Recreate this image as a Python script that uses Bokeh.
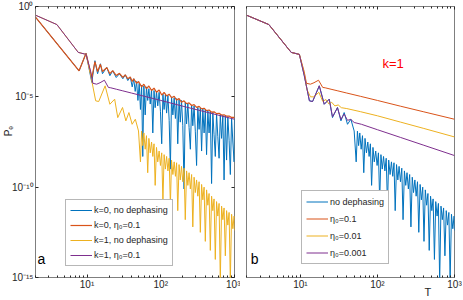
import numpy as np
from bokeh.plotting import figure
from bokeh.layouts import row
from bokeh.models import FixedTicker, LogAxis, Legend, LegendItem, Label, Range1d
from bokeh.embed import file_html
from bokeh.resources import INLINE

BLUE = "#0072BD"; ORANGE = "#D95319"; YELLOW = "#EDB120"; PURPLE = "#7E2F8E"
FONT = "Liberation Sans"
AX = "#262626"

# ---- axis ticks ----
x_major = [10, 100, 1000]
x_minor = [2, 3, 4, 5, 6, 7, 8, 9, 20, 30, 40, 50, 60, 70, 80, 90,
           200, 300, 400, 500, 600, 700, 800, 900]
x_labels = {10: "10¹", 100: "10²", 1000: "10³"}
y_major = [1e-15, 1e-10, 1e-5, 1.0]
y_labels = {1e-15: "10⁻¹⁵", 1e-10: "10⁻¹⁰", 1e-5: "10⁻⁵", 1.0: "10⁰"}
y_title = "Pₑ"
x_title = "T"

# ---- data: (T, log10 Pe) ----
k0_nodeph = [(2, -0.59), (7.8, -3.56), (9.7, -2.59), (11.6, -4.2), (12.8, -3.0), (13.9, -3.72),
    (15.2, -3.17), (16.2, -3.72), (18.5, -3.37), (20.4, -3.83), (22.3, -3.56), (24.9, -3.93),
    (27.5, -3.72), (30.6, -4.0), (33, -3.78), (35.7, -4.1), (38.6, -3.9), (41, -4.45), (43, -4.0),
    (45, -4.7), (47, -4.15), (49, -5.2), (51, -4.25), (53, -5.7), (55, -4.35), (57, -8.3),
    (59, -4.4), (61.5, -6.0), (64, -4.45), (66.5, -5.2), (69, -4.55), (72, -5.4), (75, -4.6),
    (78, -7.0), (81, -4.65), (84, -5.6), (87.5, -4.7), (91, -5.5), (95, -4.75), (99, -5.8),
    (103, -7.6), (107, -4.85), (111, -5.7), (115.5, -4.9), (120, -5.9), (125, -4.92), (130, -6.3),
    (135, -9.0), (140, -5.0), (146, -6.0), (152, -5.05), (158, -6.2), (164, -5.1), (170, -7.6),
    (177, -5.15), (184, -6.4), (191, -5.2), (199, -6.6), (207, -10.1), (215, -5.3), (224, -6.5),
    (233, -5.35), (242, -6.7), (252, -7.9), (262, -5.45), (272, -6.6), (283, -5.5), (294, -6.9),
    (306, -8.8), (318, -5.58), (331, -6.8), (344, -5.62), (358, -8.0), (372, -5.66), (387, -7.0),
    (402, -5.7), (418, -8.2), (435, -5.76), (452, -7.0), (470, -5.8), (489, -9.8), (508, -5.86),
    (528, -7.1), (549, -8.3), (571, -5.93), (594, -7.2), (618, -8.4), (642, -5.98), (668, -7.3),
    (695, -6.02), (722, -9.6), (751, -6.06), (781, -8.5), (812, -6.1), (845, -7.4), (878, -9.3),
    (913, -6.16), (950, -7.5), (988, -8.6), (1000, -6.2)]

k0_eta01 = [(2, -0.59), (7.8, -3.56), (9.7, -2.59), (11.6, -3.95), (12.8, -3.05), (13.9, -3.6),
    (15.2, -3.2), (16.2, -3.6), (18.5, -3.38), (20.4, -3.72), (22.3, -3.55), (24.9, -3.82),
    (27.5, -3.7), (30.6, -3.92), (33, -3.78), (35.7, -4.0), (38.6, -3.9), (41, -4.15), (43, -4.0),
    (47, -4.25), (50, -4.15), (55, -4.45), (59, -4.3), (64, -4.55), (69, -4.4), (75, -4.65),
    (81, -4.52), (87.5, -4.75), (95, -4.62), (103, -4.9), (111, -4.75), (120, -4.95), (130, -4.85),
    (140, -5.05), (152, -4.97), (164, -5.18), (177, -5.1), (191, -5.3), (207, -5.22), (224, -5.38),
    (242, -5.33), (262, -5.48), (283, -5.43), (306, -5.58), (331, -5.53), (358, -5.67), (387, -5.63),
    (418, -5.76), (452, -5.73), (489, -5.85), (528, -5.83), (571, -5.93), (618, -5.91), (668, -6.01),
    (722, -5.99), (781, -6.07), (845, -6.06), (913, -6.14), (988, -6.14), (1000, -6.2)]

k1_nodeph = [(2, -0.48), (3.9, -1.0), (7.6, -2.54), (9.7, -2.65), (11.2, -3.8), (13.1, -5.22),
    (14.4, -5.26), (17.6, -4.39), (20.4, -5.41), (23.7, -5.13), (26.1, -6.15), (30.3, -5.59),
    (33.6, -6.33), (37, -5.87), (40.9, -6.52), (45.2, -6.24), (49.9, -6.89), (53, -8.6), (55, -6.9),
    (57, -7.7), (59, -7.0), (61.5, -7.9), (64, -7.15), (66.5, -9.2), (69, -7.3), (72, -8.1),
    (75, -7.5), (78, -8.3), (81, -7.6), (84, -9.9), (87.5, -7.8), (91, -8.6), (95, -8.0), (99, -8.8),
    (103, -8.1), (107, -10.8), (111, -8.2), (115.5, -9.0), (120, -8.3), (125, -9.1), (130, -8.4),
    (135, -11.0), (140, -8.5), (146, -9.3), (152, -8.6), (158, -9.4), (164, -8.65), (170, -11.3),
    (177, -8.75), (184, -9.6), (191, -8.85), (199, -9.7), (207, -8.95), (215, -11.8), (224, -9.1),
    (233, -9.9), (242, -9.2), (252, -10.1), (262, -9.3), (272, -12.2), (283, -9.45), (294, -10.3),
    (306, -9.6), (318, -10.5), (331, -9.7), (344, -12.5), (358, -9.85), (372, -10.7), (387, -10.0),
    (402, -13.0), (418, -10.15), (435, -11.0), (452, -10.35), (470, -13.5), (489, -10.5),
    (508, -11.3), (528, -10.65), (549, -14.0), (571, -10.8), (594, -11.6), (618, -10.9),
    (642, -15.2), (668, -11.05), (695, -11.8), (722, -11.15), (751, -13.8), (781, -11.3),
    (812, -12.1), (845, -11.4), (878, -15.2), (913, -11.5), (950, -12.3), (988, -11.6), (1000, -12.4)]

k1_eta01 = [(2, -0.48), (3.9, -1.0), (7.6, -2.54), (9.7, -2.65), (11.2, -3.6), (12, -4.25),
    (13.5, -4.3), (15, -4.22), (17.2, -4.08), (19.5, -4.48), (21, -4.5), (25, -4.58), (30, -4.66),
    (40, -4.79), (60, -4.97), (100, -5.2), (200, -5.52), (400, -5.83), (1000, -6.24)]

k1_eta001 = [(2, -0.48), (3.9, -1.0), (7.6, -2.54), (9.7, -2.65), (11.2, -3.7), (12.2, -4.6),
    (13.5, -5.0), (15, -5.0), (17.4, -4.75), (19.5, -5.25), (21.5, -5.15), (23.5, -5.4),
    (25.5, -5.3), (28, -5.5), (31, -5.45), (34, -5.6), (40, -5.65), (60, -5.82), (100, -6.05),
    (200, -6.4), (400, -6.75), (1000, -7.22)]

k1_eta0001 = [(2, -0.48), (3.9, -1.0), (7.6, -2.54), (9.7, -2.65), (11.2, -3.8), (13.1, -5.22),
    (14.4, -5.26), (17.6, -4.39), (20.4, -5.41), (23.7, -5.13), (26.1, -6.1), (30.3, -5.6),
    (33.6, -6.25), (37, -5.95), (40.9, -6.3), (45, -6.25), (50, -6.42), (62, -6.52), (100, -6.82),
    (200, -7.25), (400, -7.68), (1000, -8.25)]

# where the axis titles sit (T value / Pe value)
x_title_at = 450.0
y_title_at = 10 ** -6.9


def xy(series):
    t = np.array([s[0] for s in series], dtype=float)
    lp = np.array([s[1] for s in series], dtype=float)
    return t, 10.0 ** lp


def blank_axis(ticks, minor, tick_in, minor_in):
    return LogAxis(ticker=FixedTicker(ticks=ticks, minor_ticks=minor),
                   major_label_text_font_size="1px", major_label_text_alpha=0,
                   major_label_standoff=0, axis_line_color=None,
                   major_tick_in=tick_in, major_tick_out=0,
                   minor_tick_in=minor_in, minor_tick_out=0,
                   major_tick_line_color=AX, minor_tick_line_color=AX)


def title_axis(at, text, size, standoff, orientation):
    return LogAxis(ticker=FixedTicker(ticks=[at], minor_ticks=[]),
                   major_label_overrides={at: text},
                   major_label_text_font=FONT, major_label_text_font_size=size,
                   major_label_text_color=AX, major_label_standoff=standoff,
                   major_label_orientation=orientation,
                   axis_line_color=None, major_tick_in=0, major_tick_out=0,
                   minor_tick_in=0, minor_tick_out=0)


def style(p, ylabels):
    p.xgrid.visible = False
    p.ygrid.visible = False
    p.outline_line_color = "#7f7f7f"
    p.outline_line_width = 1
    p.background_fill_color = "white"
    p.border_fill_color = "white"
    ax = p.xaxis[0]
    ax.ticker = FixedTicker(ticks=x_major, minor_ticks=x_minor)
    ax.major_label_overrides = x_labels
    ax.axis_line_color = None
    ax.major_tick_in = 3; ax.major_tick_out = 0
    ax.minor_tick_in = 2; ax.minor_tick_out = 0
    ax.major_tick_line_color = AX; ax.minor_tick_line_color = AX
    ax.major_label_text_font = FONT
    ax.major_label_text_font_size = "10px"
    ax.major_label_text_color = AX
    ax.major_label_standoff = 1
    p.add_layout(blank_axis(x_major, x_minor, 3, 2), "above")
    ay = p.yaxis[0]
    if ylabels:
        ay.ticker = FixedTicker(ticks=y_major, minor_ticks=[])
        ay.major_label_overrides = y_labels
        ay.axis_line_color = None
        ay.major_tick_in = 3; ay.major_tick_out = 0
        ay.minor_tick_in = 0; ay.minor_tick_out = 0
        ay.major_tick_line_color = AX
        ay.major_label_text_font = FONT
        ay.major_label_text_font_size = "10px"
        ay.major_label_text_color = AX
        ay.major_label_standoff = 2
        p.add_layout(blank_axis(y_major, [], 3, 0), "right")
    else:
        ay.visible = False


def make_legend(items, loc, gh, sp):
    return Legend(items=items, location=loc, orientation="vertical",
                  label_text_font=FONT, label_text_font_size="9px", label_text_color=AX,
                  glyph_width=22, glyph_height=gh, label_height=gh, label_standoff=2,
                  label_width=10, padding=4, spacing=sp, margin=0,
                  border_line_color="#6f6f6f", border_line_width=1,
                  background_fill_color="white", background_fill_alpha=1.0)


# ---- left panel (a) ----
p1 = figure(width=240, height=300, x_axis_type="log", y_axis_type="log",
            x_range=Range1d(2, 1000), y_range=Range1d(1e-15, 1),
            output_backend="svg", toolbar_location=None,
            min_border_left=20, min_border_right=6, min_border_top=6, min_border_bottom=21)
style(p1, True)
p1.add_layout(title_axis(y_title_at, y_title, "10px", -6, "parallel"), "left")
r1 = p1.line(*xy(k0_nodeph), line_color=BLUE, line_width=1)
r2 = p1.line(*xy(k0_eta01), line_color=ORANGE, line_width=1.2)
r3 = p1.line(*xy(k1_nodeph), line_color=YELLOW, line_width=1)
r4 = p1.line(*xy(k1_eta01), line_color=PURPLE, line_width=1)
leg1 = make_legend([LegendItem(label="k=0, no dephasing", renderers=[r1]),
                    LegendItem(label="k=0, η₀=0.1", renderers=[r2]),
                    LegendItem(label="k=1, no dephasing", renderers=[r3]),
                    LegendItem(label="k=1, η₀=0.1", renderers=[r4])], (30, 11), 12, 3)
p1.add_layout(leg1)
p1.add_layout(Label(x=2.4, y=10 ** -14.0, text="a", text_font=FONT, text_font_size="14px",
                    text_color="black", text_align="center", text_baseline="middle"))

# ---- right panel (b) ----
p2 = figure(width=222, height=300, x_axis_type="log", y_axis_type="log",
            x_range=Range1d(2, 1000), y_range=Range1d(1e-15, 1),
            output_backend="svg", toolbar_location=None,
            min_border_left=6, min_border_right=8, min_border_top=6, min_border_bottom=21)
style(p2, False)
p2.add_layout(title_axis(x_title_at, x_title, "11px", -7, "horizontal"), "below")
q1 = p2.line(*xy(k1_nodeph), line_color=BLUE, line_width=1)
q2 = p2.line(*xy(k1_eta01), line_color=ORANGE, line_width=1)
q3 = p2.line(*xy(k1_eta001), line_color=YELLOW, line_width=1)
q4 = p2.line(*xy(k1_eta0001), line_color=PURPLE, line_width=1)
leg2 = make_legend([LegendItem(label="no dephasing", renderers=[q1]),
                    LegendItem(label="η₀=0.1", renderers=[q2]),
                    LegendItem(label="η₀=0.01", renderers=[q3]),
                    LegendItem(label="η₀=0.001", renderers=[q4])], (55, 13), 13, 4)
p2.add_layout(leg2)
p2.add_layout(Label(x=2.55, y=10 ** -14.0, text="b", text_font=FONT, text_font_size="14px",
                    text_color="black", text_align="center", text_baseline="middle"))
p2.add_layout(Label(x=160, y=10 ** -3.17, text="k=1", text_font=FONT, text_font_size="13px",
                    text_color="#FF0000", text_align="center", text_baseline="middle"))

layout = row(p1, p2, spacing=0)
open("out.html", "w").write(file_html(layout, INLINE))
